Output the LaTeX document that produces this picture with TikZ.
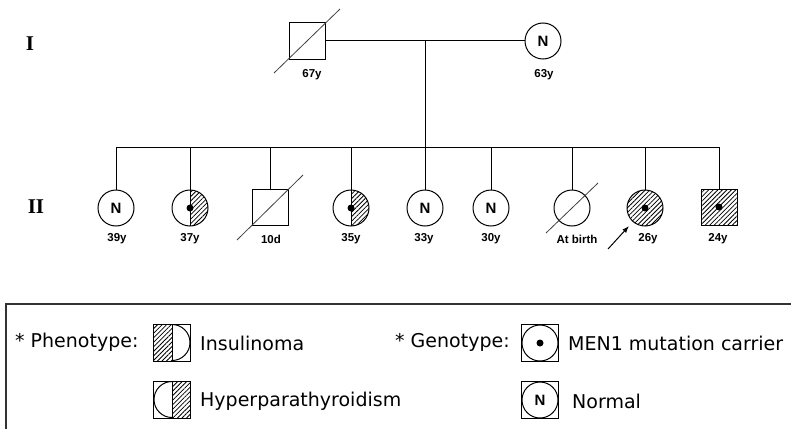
\documentclass[tikz,border=0pt]{standalone}
\usepackage{fontspec}
\setmainfont{DejaVu Sans}
\newfontfamily\agefont{Liberation Sans}
\newfontfamily\genfont{Liberation Serif}
\usetikzlibrary{patterns.meta,arrows.meta}

\tikzset{
  person/.style={draw,line width=1pt,minimum size=36pt,inner sep=0pt},
  female/.style={person,circle},
  male/.style={person,rectangle},
  hatch/.style={pattern={Lines[angle=45,distance=3.2pt,line width=0.8pt]}},
  fullcarrier/.style={path picture={
      \fill[hatch] (path picture bounding box.south west) rectangle (path picture bounding box.north east);
      \fill (path picture bounding box.center) circle (3.5pt);}},
  halfright/.style={path picture={
      \fill[hatch] (path picture bounding box.north) rectangle (path picture bounding box.south east);
      \draw[line width=1pt] (path picture bounding box.north) -- (path picture bounding box.south);
      \fill (path picture bounding box.center) circle (3.5pt);}},
  normal/.style={font=\agefont\bfseries\fontsize{15}{17}\selectfont},
  agelbl/.style={font=\agefont\bfseries\fontsize{11.5}{13}\selectfont,inner sep=0pt},
  genlbl/.style={font=\genfont\bfseries\fontsize{21}{23}\selectfont},
  slash/.style={line width=0.8pt,black!75},
  line/.style={line width=1pt},
  legtext/.style={font=\fontsize{19}{22}\selectfont,anchor=west,inner sep=0pt},
  legbox/.style={draw,line width=1pt,rectangle,minimum size=37pt,inner sep=0pt},
  legleft/.style={legbox,path picture={
      \fill[hatch] (path picture bounding box.south west) rectangle (path picture bounding box.north);
      \draw (path picture bounding box.north) -- (path picture bounding box.south);
      \draw (path picture bounding box.north) arc (90:-90:18pt);}},
  legright/.style={legbox,path picture={
      \fill[hatch] (path picture bounding box.north) rectangle (path picture bounding box.south east);
      \draw (path picture bounding box.north) -- (path picture bounding box.south);
      \draw (path picture bounding box.north) arc (90:270:18pt);}},
  legcircle/.style={legbox,path picture={
      \draw (path picture bounding box.center) circle (18pt);}},
  legcarrier/.style={legbox,path picture={
      \draw (path picture bounding box.center) circle (18pt);
      \fill (path picture bounding box.center) circle (3.5pt);}}
}

\begin{document}
\begin{tikzpicture}[x=1pt,y=-1pt]

  \clip (0,0) rectangle (791,428);

  % generations
  \node[genlbl] (g1) at (30,44) {I};
  \node[genlbl] (g2) at (36,207) {II};

  % generation I
  \node[male] (f1) at (307,41) {};
  \node[female,normal] (m1) at (543,41) {N};
  \draw[slash] ([shift={(-33,32)}]f1.center) -- ([shift={(33,-32)}]f1.center);
  \node[agelbl] (f1age) at (312,75) {67y};
  \node[agelbl] (m1age) at (544,75) {63y};

  \draw[line] (f1) -- (m1);
  \coordinate (mate) at (425,41);
  \coordinate (sib) at (425,147);
  \draw[line] (mate) -- (sib);

  % generation II
  \node[female,normal] (c1) at (116,208) {N};
  \node[female,halfright] (c2) at (190,208) {};
  \node[male] (c3) at (270,207) {};
  \node[female,halfright] (c4) at (351,208) {};
  \node[female,normal] (c5) at (425,208) {N};
  \node[female,normal] (c6) at (491,208) {N};
  \node[female] (c7) at (572,208) {};
  \node[female,fullcarrier] (c8) at (645,208) {};
  \node[male,fullcarrier] (c9) at (719,207) {};

  \draw[line] (c1 |- sib) -- (c9 |- sib);
  \foreach \c in {c1,c2,c3,c4,c5,c6,c7,c8,c9}
    \draw[line] (\c |- sib) -- (\c.north);

  \draw[slash] ([shift={(-33,33)}]c3.center) -- ([shift={(33,-32)}]c3.center);
  \draw[slash] ([shift={(-26,25)}]c7.center) -- ([shift={(26,-25)}]c7.center);

  \foreach \n/\x/\t in {a1/117/39y,a2/190/37y,a3/271/10d,a4/351/35y,a5/424/33y,
                        a6/491/30y,a7/577/At birth,a8/648/26y,a9/718/24y}
    \node[agelbl] (\n) at (\x,239) {\t};

  % proband
  \coordinate (arrtail) at (608,249);
  \coordinate (arrhead) at (629,226);
  \draw[line,-{Latex[length=7pt,width=5pt]}] (arrtail) -- (arrhead);

  % legend
  \draw[line width=1.3pt,black!80] (6,304) rectangle (830,470);
  \node[legtext] (phen) at (15,342) {* Phenotype:};
  \node[legleft] (s1) at (172,343) {};
  \node[legtext] (t1) at (200,343) {Insulinoma};
  \node[legright] (s2) at (172,400) {};
  \node[legtext] (t2) at (200,401) {Hyperparathyroidism};

  \node[legtext] (geno) at (395,342) {* Genotype:};
  \node[legcarrier] (s3) at (540,343) {};
  \node[legtext] (t3) at (568,343) {MEN1 mutation carrier};
  \node[legcircle,normal] (s4) at (540,400) {N};
  \node[legtext] (t4) at (572,401) {Normal};

\end{tikzpicture}
\end{document}
